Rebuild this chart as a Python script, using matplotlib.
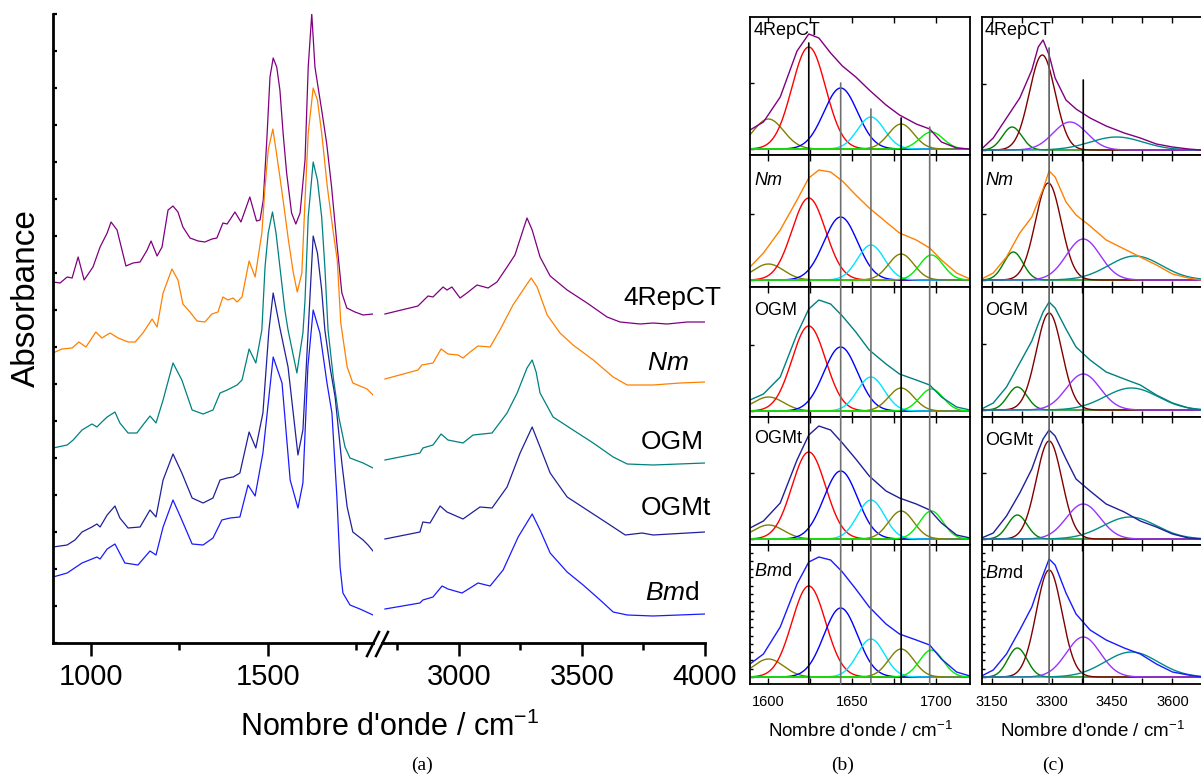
import numpy as np
import matplotlib
matplotlib.use('Agg')
import matplotlib.pyplot as plt
from matplotlib.patches import ConnectionPatch
from matplotlib.lines import Line2D
from matplotlib.ticker import MultipleLocator

plt.rcParams['font.family'] = ['Liberation Sans', 'DejaVu Sans']
plt.rcParams['mathtext.fontset'] = 'custom'
plt.rcParams['mathtext.rm'] = 'Liberation Sans'
plt.rcParams['mathtext.it'] = 'Liberation Sans:italic'

# ---------------- data ----------------
samples = ['4RepCT', 'Nm', 'OGM', 'OGMt', 'Bmd']
labels = ['4RepCT', r'$\mathit{Nm}$', 'OGM', 'OGMt', r'$\mathit{Bm}$d']
colors = ['#800080', '#ff8000', '#008080', '#20209a', '#1a1aff']

# (a) FTIR spectra, 900-1800 cm-1 part (absorbance in a.u., stacked)
wn_lo_4repct = [893, 913, 933, 947, 964, 981, 1006, 1026, 1046, 1057, 1074, 1099, 1119, 1139, 1159, 1170, 1187, 1201,
                1218, 1232, 1246, 1260, 1280, 1303, 1322, 1342, 1356, 1373, 1385, 1407, 1424, 1449, 1468, 1478, 1487,
                1497, 1506, 1515, 1525, 1534, 1543, 1553, 1567, 1579, 1591, 1605, 1614, 1624, 1633, 1640, 1652, 1666,
                1680, 1694, 1709, 1723, 1746, 1769, 1797]
ab_lo_4repct = [361, 360, 366, 365, 386, 363, 376, 396, 410, 421, 413, 377, 380, 381, 393, 402, 387, 396,
                433, 437, 431, 416, 405, 402, 401, 404, 405, 420, 419, 431, 421, 446, 422, 423, 443,
                503, 566, 585, 576, 553, 510, 470, 430, 419, 430, 483, 576, 629, 576, 560, 533, 500,
                456, 403, 350, 335, 331, 328, 329]
wn_lo_nm = [893, 918, 947, 966, 986, 1014, 1031, 1054, 1077, 1105, 1125, 1147, 1173, 1187, 1204, 1229, 1246, 1260,
            1280, 1300, 1322, 1342, 1359, 1373, 1387, 1402, 1413, 1427, 1447, 1464, 1483, 1492, 1501, 1514, 1523,
            1534, 1543, 1558, 1572, 1583, 1596, 1605, 1614, 1628, 1640, 1652, 1668, 1685, 1696, 1706, 1724, 1740,
            1780, 1797]
ab_lo_nm = [290, 294, 295, 301, 296, 311, 305, 310, 305, 301, 301, 310, 324, 316, 350, 374, 363, 339,
            331, 322, 321, 329, 331, 346, 343, 345, 341, 346, 382, 366, 410, 456, 493, 514, 493,
            466, 443, 403, 370, 351, 370, 443, 510, 555, 543, 510, 456, 410, 383, 320, 276, 260,
            254, 248]
wn_lo_ogm = [893, 933, 950, 975, 1003, 1017, 1031, 1046, 1068, 1082, 1105, 1130, 1147, 1167, 1184, 1204, 1232, 1257,
             1286, 1317, 1345, 1365, 1385, 1413, 1427, 1447, 1466, 1483, 1492, 1501, 1513, 1523, 1534, 1548, 1557,
             1582, 1599, 1605, 1614, 1628, 1640, 1652, 1661, 1670, 1685, 1701, 1718, 1732, 1769, 1797]
ab_lo_ogm = [195, 198, 203, 213, 219, 216, 221, 226, 231, 220, 210, 210, 218, 227, 220, 243, 280, 263,
             233, 229, 233, 250, 253, 258, 263, 294, 280, 313, 376, 410, 431, 410, 376, 333, 313,
             270, 310, 343, 426, 481, 463, 426, 376, 313, 265, 225, 196, 185, 180, 175]
wn_lo_ogmt = [893, 933, 955, 975, 1003, 1017, 1026, 1046, 1068, 1082, 1105, 1139, 1167, 1184, 1204, 1232, 1257, 1286,
              1317, 1345, 1365, 1385, 1402, 1421, 1447, 1466, 1486, 1503, 1515, 1526, 1534, 1557, 1585, 1599, 1614,
              1628, 1640, 1652, 1661, 1676, 1690, 1709, 1724, 1740, 1769, 1783, 1797]
ab_lo_ogmt = [96, 98, 103, 111, 116, 119, 116, 128, 137, 125, 115, 116, 133, 126, 163, 189, 170, 145,
              140, 145, 163, 165, 166, 170, 211, 195, 230, 313, 350, 330, 315, 276, 188, 213, 313,
              407, 390, 353, 313, 275, 246, 180, 136, 111, 103, 98, 92]
wn_lo_bmd = [893, 933, 975, 1017, 1026, 1046, 1068, 1096, 1133, 1167, 1184, 1204, 1232, 1257, 1286, 1317, 1345, 1370,
             1393, 1421, 1444, 1464, 1486, 1515, 1540, 1563, 1585, 1599, 1613, 1628, 1647, 1667, 1681, 1695, 1704,
             1712, 1732, 1760, 1797]
ab_lo_bmd = [66, 70, 80, 86, 84, 94, 99, 80, 78, 92, 88, 116, 143, 123, 99, 98, 105, 123,
             125, 126, 158, 147, 190, 286, 260, 163, 135, 160, 276, 333, 310, 260, 230, 146, 76,
             50, 38, 34, 28]

# (a) FTIR spectra, 2700-4000 cm-1 part
wn_hi_4repct = [2700, 2834, 2875, 2895, 2936, 2952, 2972, 3005, 3033, 3074, 3119, 3155, 3196, 3228, 3257, 3277, 3298,
                3330, 3371, 3440, 3521, 3602, 3655, 3737, 3789, 3846, 3928, 4000]
ab_hi_4repct = [329, 337, 347, 346, 356, 353, 356, 345, 350, 358, 355, 361, 376, 388, 410, 425, 413,
                386, 367, 353, 340, 326, 321, 319, 320, 319, 321, 321]
wn_hi_nm = [2700, 2834, 2850, 2895, 2928, 2956, 2997, 3017, 3046, 3078, 3127, 3167, 3220, 3269, 3294, 3318, 3359,
            3411, 3464, 3546, 3627, 3684, 3789, 3899, 4000]
ab_hi_nm = [264, 273, 278, 280, 294, 289, 288, 285, 291, 297, 296, 313, 338, 356, 365, 356, 328,
            310, 298, 283, 266, 258, 258, 260, 261]
wn_hi_ogm = [2700, 2842, 2854, 2895, 2928, 2956, 3017, 3058, 3135, 3196, 3237, 3277, 3298, 3314, 3330, 3383, 3464,
             3546, 3627, 3684, 3789, 4000]
ab_hi_ogm = [183, 190, 195, 198, 209, 203, 200, 208, 210, 230, 250, 275, 283, 271, 250, 226, 213,
             200, 186, 179, 178, 180]
wn_hi_ogmt = [2700, 2842, 2854, 2883, 2924, 2952, 3017, 3086, 3135, 3196, 3249, 3298, 3330, 3371, 3440, 3521, 3602,
              3676, 3745, 3789, 4000]
ab_hi_ogmt = [104, 111, 121, 120, 137, 131, 124, 136, 135, 156, 190, 216, 196, 170, 146, 133, 120,
              108, 110, 108, 111]
wn_hi_bmd = [2700, 2842, 2854, 2895, 2932, 2956, 3013, 3046, 3078, 3127, 3180, 3241, 3298, 3330, 3371, 3440, 3505,
             3574, 3627, 3684, 3789, 4000]
ab_hi_bmd = [34, 40, 43, 46, 57, 54, 50, 55, 60, 57, 73, 106, 129, 113, 90, 71, 58,
             43, 31, 28, 27, 29]

lo_wn = [wn_lo_4repct, wn_lo_nm, wn_lo_ogm, wn_lo_ogmt, wn_lo_bmd]
lo_ab = [ab_lo_4repct, ab_lo_nm, ab_lo_ogm, ab_lo_ogmt, ab_lo_bmd]
hi_wn = [wn_hi_4repct, wn_hi_nm, wn_hi_ogm, wn_hi_ogmt, wn_hi_bmd]
hi_ab = [ab_hi_4repct, ab_hi_nm, ab_hi_ogm, ab_hi_ogmt, ab_hi_bmd]

# (b) amide I deconvolution: measured envelope + gaussian bands
env_b_wn = [1589, 1597, 1607, 1617, 1624, 1630, 1637, 1644, 1652, 1660, 1670, 1678, 1688, 1696, 1703, 1712, 1720]
env_b = {
    '4RepCT': [0.19, 0.27, 0.52, 0.98, 1.15, 1.11, 0.96, 0.83, 0.72, 0.59, 0.44, 0.34, 0.25, 0.20, 0.07, 0.01, 0.0],
    'Nm':     [0.13, 0.27, 0.50, 0.80, 1.02, 1.10, 1.08, 0.99, 0.85, 0.72, 0.58, 0.47, 0.40, 0.32, 0.20, 0.07, 0.01],
    'OGM':    [0.11, 0.17, 0.34, 0.77, 1.02, 1.11, 1.07, 0.95, 0.79, 0.61, 0.47, 0.37, 0.31, 0.26, 0.14, 0.04, 0.01],
    'OGMt':   [0.11, 0.18, 0.36, 0.79, 1.04, 1.13, 1.09, 0.96, 0.80, 0.63, 0.48, 0.41, 0.35, 0.29, 0.16, 0.04, 0.01],
    'Bmd':    [0.13, 0.23, 0.50, 0.93, 1.15, 1.20, 1.17, 1.05, 0.88, 0.70, 0.53, 0.43, 0.37, 0.32, 0.18, 0.05, 0.01],
}
b_centres = [1600, 1624, 1643, 1661, 1679, 1697]
b_sigmas = [9, 10, 10, 8, 7.5, 7]
b_heights = {
    '4RepCT': [0.30, 1.02, 0.61, 0.32, 0.25, 0.17],
    'Nm':     [0.16, 0.82, 0.63, 0.35, 0.26, 0.25],
    'OGM':    [0.14, 0.85, 0.64, 0.34, 0.23, 0.22],
    'OGMt':   [0.14, 0.87, 0.68, 0.39, 0.28, 0.28],
    'Bmd':    [0.18, 0.91, 0.69, 0.38, 0.28, 0.27],
}
b_colors = ['#808000', '#ff0000', '#0000ff', '#00e5ff', '#808000', '#00ee00']
b_marks = [1624, 1643, 1661, 1679, 1696]
b_mark_tops = [1.06, 0.66, 0.40, 0.31, 0.22]

# (c) amide A deconvolution
env_c_wn = [3125, 3154, 3187, 3220, 3250, 3266, 3278, 3293, 3308, 3335, 3360, 3395, 3435, 3480, 3520, 3560, 3600,
            3640, 3670]
env_c = {
    '4RepCT': [0.01, 0.12, 0.32, 0.52, 0.80, 1.03, 1.10, 0.95, 0.72, 0.50, 0.41, 0.32, 0.24, 0.17, 0.12, 0.06, 0.03, 0.01, 0.0],
    'Nm':     [0.01, 0.07, 0.23, 0.47, 0.63, 0.79, 0.91, 1.09, 1.03, 0.78, 0.65, 0.54, 0.40, 0.31, 0.23, 0.15, 0.06, 0.02, 0.0],
    'OGM':    [0.01, 0.07, 0.23, 0.47, 0.69, 0.86, 0.98, 1.08, 1.02, 0.81, 0.63, 0.50, 0.38, 0.31, 0.25, 0.15, 0.07, 0.02, 0.0],
    'OGMt':   [0.01, 0.06, 0.23, 0.46, 0.70, 0.88, 1.00, 1.09, 1.03, 0.80, 0.60, 0.48, 0.35, 0.27, 0.18, 0.12, 0.05, 0.01, 0.0],
    'Bmd':    [0.01, 0.07, 0.23, 0.47, 0.70, 0.89, 1.02, 1.18, 1.12, 0.84, 0.63, 0.47, 0.37, 0.29, 0.23, 0.13, 0.05, 0.02, 0.0],
}
c_centres = {
    '4RepCT': [3201, 3276, 3345, 3461],
    'Nm':     [3204, 3291, 3378, 3507],
    'OGM':    [3214, 3293, 3378, 3498],
    'OGMt':   [3214, 3293, 3378, 3494],
    'Bmd':    [3214, 3293, 3378, 3498],
}
c_heights = {
    '4RepCT': [0.23, 0.95, 0.28, 0.13],
    'Nm':     [0.28, 0.97, 0.41, 0.24],
    'OGM':    [0.23, 0.97, 0.36, 0.22],
    'OGMt':   [0.24, 0.98, 0.35, 0.22],
    'Bmd':    [0.29, 1.07, 0.40, 0.25],
}
c_sigmas = [24, 32, 42, 66]
c_colors = ['#008000', '#800000', '#9933ff', '#008b8b']
c_marks = [3293, 3378]
c_mark_tops = [1.02, 0.70]

# ---------------- layout ----------------
W, H = 1201, 776
fig = plt.figure(figsize=(W / 100, H / 100), dpi=100)


def px_box(left, top, right, bottom):
    return [left / W, 1 - bottom / H, (right - left) / W, (bottom - top) / H]


# ---- (a) ----
ax_lo = fig.add_axes(px_box(53, 14, 373, 643))
ax_hi = fig.add_axes(px_box(382, 14, 705, 643))
for ax, wns, abss in ((ax_lo, lo_wn, lo_ab), (ax_hi, hi_wn, hi_ab)):
    for w, a, c in zip(wns, abss, colors):
        ax.plot(w, a, color=c, lw=0.9)
    ax.set_ylim(0, 629)
    ax.spines[['top', 'right']].set_visible(False)
    ax.spines['bottom'].set_linewidth(2)
    ax.tick_params(axis='x', which='major', direction='out', length=9.5, width=1.8, labelsize=21, pad=5)
    ax.tick_params(axis='x', which='minor', direction='out', length=5, width=1.8)
ax_lo.set_xlim(893, 1797)
ax_hi.set_xlim(2688, 4000)
ax_lo.set_xticks([1000, 1500])
ax_lo.set_xticks([1250, 1750], minor=True)
ax_hi.set_xticks([3000, 3500, 4000])
ax_hi.set_xticks([2750, 3250, 3750], minor=True)
ax_lo.spines['left'].set_linewidth(2)
ax_lo.yaxis.set_major_locator(MultipleLocator(37))
ax_lo.tick_params(axis='y', direction='in', length=3, width=1.6, labelleft=False)
ax_hi.spines['left'].set_visible(False)
ax_hi.tick_params(axis='y', left=False, labelleft=False)

# axis break
for x0 in (367, 376):
    fig.add_artist(Line2D([x0 / W, (x0 + 12) / W], [1 - 656 / H, 1 - 632 / H], color='k', lw=1.8))

fig.text(26 / W, 1 - 298 / H, 'Absorbance', rotation=90, ha='center', va='center', fontsize=24)
fig.text(390 / W, 1 - 736 / H, "Nombre d'onde / cm$^{-1}$", ha='center', va='baseline', fontsize=22)

label_pos = [(672, 305), (668, 370), (672, 449), (676, 515), (672, 600)]
for lab, (x, y) in zip(labels, label_pos):
    fig.text(x / W, 1 - y / H, lab, ha='center', va='baseline', fontsize=19)

# ---- (b) and (c) ----
rows = [(17, 155), (155, 287), (287, 417), (417, 545), (545, 684)]
base_b = [149, 280, 411, 539, 677]
base_c = [150, 280, 410, 539, 677]
lab_off_b = [5, 17, 15, 13, 18]
lab_off_c = [5, 17, 15, 15, 20]

xb = np.linspace(1589, 1720, 600)
xc = np.linspace(3126, 3676, 600)
axes_b, axes_c = [], []
for i, s in enumerate(samples):
    t, b = rows[i]
    axb = fig.add_axes(px_box(750, t, 970, b))
    for cen, sig, h, col in zip(b_centres, b_sigmas, b_heights[s], b_colors):
        axb.plot(xb, h * np.exp(-0.5 * ((xb - cen) / sig) ** 2), color=col, lw=1)
    axb.plot(env_b_wn, env_b[s], color=colors[i], lw=1)
    axb.set_xlim(1589, 1720)
    axb.set_ylim((base_b[i] - b) / 100, (base_b[i] - t) / 100)
    axb.xaxis.set_major_locator(MultipleLocator(50))
    axb.xaxis.set_minor_locator(MultipleLocator(25))
    axb.text(4 / 220, 1 - lab_off_b[i] / (b - t), labels[i], transform=axb.transAxes,
             ha='left', va='top', fontsize=13)
    axes_b.append(axb)

    axc = fig.add_axes(px_box(982, t, 1203, b))
    for cen, sig, h, col in zip(c_centres[s], c_sigmas, c_heights[s], c_colors):
        axc.plot(xc, h * np.exp(-0.5 * ((xc - cen) / sig) ** 2), color=col, lw=1)
    axc.plot(env_c_wn, env_c[s], color=colors[i], lw=1)
    axc.set_xlim(3126, 3676)
    axc.set_ylim((base_c[i] - b) / 100, (base_c[i] - t) / 100)
    axc.xaxis.set_major_locator(MultipleLocator(150))
    axc.xaxis.set_minor_locator(MultipleLocator(75))
    axc.text(3 / 221, 1 - lab_off_c[i] / (b - t), labels[i], transform=axc.transAxes,
             ha='left', va='top', fontsize=13)
    axes_c.append(axc)

    for ax in (axb, axc):
        for sp in ax.spines.values():
            sp.set_linewidth(1.3)
        ax.tick_params(axis='x', which='both', direction='in', top=True, bottom=True, length=4, width=1,
                       labelsize=10.5, pad=8, labelbottom=(i == 4))
        ax.set_yticks([0, 0.66])
        ax.tick_params(axis='y', which='both', direction='in', length=3, width=1, labelleft=False)
        if i == 4:
            ax.yaxis.set_minor_locator(MultipleLocator(0.083))
            ax.tick_params(axis='y', which='minor', length=2)

b_line_colors = ['#000000', '#707070', '#707070', '#000000', '#707070']
for x, top, col in zip(b_marks, b_mark_tops, b_line_colors):
    con = ConnectionPatch(xyA=(x, top), coordsA='data', axesA=axes_b[0],
                          xyB=(x, axes_b[-1].get_ylim()[0]), coordsB='data', axesB=axes_b[-1],
                          color=col, lw=1.2)
    fig.add_artist(con)
c_line_colors = ['#606060', '#000000']
for x, top, col in zip(c_marks, c_mark_tops, c_line_colors):
    con = ConnectionPatch(xyA=(x, top), coordsA='data', axesA=axes_c[0],
                          xyB=(x, axes_c[-1].get_ylim()[0]), coordsB='data', axesB=axes_c[-1],
                          color=col, lw=1.2)
    fig.add_artist(con)

fig.text(860 / W, 1 - 737 / H, "Nombre d'onde / cm$^{-1}$", ha='center', va='baseline', fontsize=13.5)
fig.text(1092 / W, 1 - 737 / H, "Nombre d'onde / cm$^{-1}$", ha='center', va='baseline', fontsize=13.5)

for txt, x in (('(a)', 422), ('(b)', 843), ('(c)', 1053)):
    fig.text(x / W, 1 - 765 / H, txt, ha='center', va='center', fontsize=14, family='Liberation Serif')

fig.savefig('out.png', dpi=100)
